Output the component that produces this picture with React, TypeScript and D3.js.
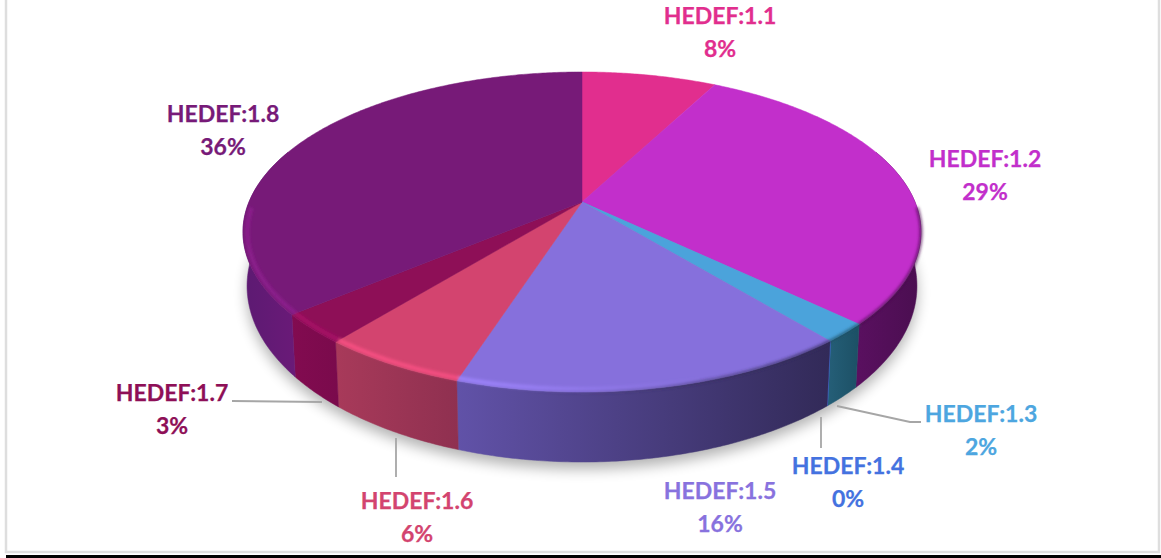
import { useEffect, useRef } from 'react'
import * as d3 from 'd3'

const categories = ['HEDEF:1.1', 'HEDEF:1.2', 'HEDEF:1.3', 'HEDEF:1.4', 'HEDEF:1.5', 'HEDEF:1.6', 'HEDEF:1.7', 'HEDEF:1.8']
// labels round these, the slice edges in the picture sit slightly off the whole numbers
const percents = [7.7, 29.4, 1.9, 0, 16, 5.9, 3, 36.1]
const colors = ['#E12E8E', '#C22FCB', '#4BA3DB', '#4472E0', '#8670DC', '#D3446F', '#8E0F57', '#771A78']
const labelColors = ['#E12E8E', '#C22FCB', '#4DA6E0', '#4472E0', '#8872DE', '#D3446F', '#8E0F57', '#771A78']
// side wall shading, left to right
const sideLeft = ['#7a1a50', '#5a1060', '#255f78', '#3a5fc0', '#6152A8', '#A83A5A', '#820B50', '#5C1A72']
const sideRight = ['#7a1a50', '#4A0E50', '#1C5065', '#3a5fc0', '#322A58', '#8F3050', '#7A0A4C', '#6A1A78']

const labelX = [720, 985, 981, 848, 720, 417, 172, 223]
const labelY = [16, 159, 414, 466, 491, 501, 393, 114]
const leaders: [number, number][][] = [
  [],
  [],
  [[837, 406], [910, 422], [921, 422]],
  [[821, 417], [821, 448]],
  [],
  [[396, 438], [396, 477]],
  [[232, 401], [322, 402]],
  [],
]

const width = 1161
const height = 558

// disc seen in perspective: apex is where the centre of the disc lands
const apex = { x: 582, y: 202 }
const discA = 333
const discB = 154.4
const tilt = 0.1875
const midY = 232
const wall = { scaleX: 0.988, scaleY: 1.1, shift: 54 }
const frontFrom = (70 * Math.PI) / 180
const frontTo = (290 * Math.PI) / 180
const rimFrom = (92 * Math.PI) / 180
const rimTo = (268 * Math.PI) / 180

function topPoint(angle: number): [number, number] {
  const u = Math.sin(angle)
  const v = -Math.cos(angle)
  const w = 1 - tilt * v
  return [apex.x + (discA * u) / w, apex.y + (discB * v) / w]
}

function bottomPoint(angle: number): [number, number] {
  const [x, y] = topPoint(angle)
  return [apex.x + (x - apex.x) * wall.scaleX, midY + (y - midY) * wall.scaleY + wall.shift]
}

// slightly inside the edge, where the bevel catches the light
function bevelPoint(angle: number): [number, number] {
  const [x, y] = topPoint(angle)
  return [apex.x + (x - apex.x) * 0.987, midY + (y - midY) * 0.982]
}

function sweep(a: number, b: number) {
  const n = Math.max(1, Math.ceil((b - a) / 0.01))
  return d3.range(n + 1).map(i => a + ((b - a) * i) / n)
}

export default function App() {
  const svgRef = useRef<SVGSVGElement | null>(null)

  useEffect(() => {
    if (!svgRef.current) return
    const svg = d3.select(svgRef.current)
    svg.selectAll('*').remove()

    const arcs = d3.pie<number>().sort(null).value(d => d)(percents)
    const line = d3.line<[number, number]>()
    const defs = svg.append('defs')

    defs.append('filter').attr('id', 'shadowBlur')
      .attr('x', '-10%').attr('y', '-10%').attr('width', '120%').attr('height', '125%')
      .append('feGaussianBlur').attr('stdDeviation', 7)
    defs.append('filter').attr('id', 'rimBlur')
      .attr('filterUnits', 'userSpaceOnUse')
      .attr('x', 0).attr('y', 0).attr('width', width).attr('height', height)
      .append('feGaussianBlur').attr('stdDeviation', 1.5)

    // frame
    svg.append('rect').attr('width', width).attr('height', height).attr('fill', '#fff')
    svg.append('path')
      .attr('d', 'M6,0V552H1159V0')
      .attr('fill', 'none').attr('stroke', '#dedede').attr('stroke-width', 2.5)
    svg.append('rect').attr('x', 6).attr('y', 555).attr('width', width - 6).attr('height', 3).attr('fill', '#000')

    // shadow under the pie
    const whole = sweep(0, Math.PI * 2)
    svg.append('path')
      .attr('d', line(whole.map(bottomPoint)) + 'Z')
      .attr('transform', 'translate(0,7)')
      .attr('fill', '#000').attr('opacity', 0.3)
      .attr('filter', 'url(#shadowBlur)')

    // side walls
    const sides = svg.append('g')
    arcs.forEach((d, i) => {
      const a = Math.max(d.startAngle, frontFrom)
      const b = Math.min(d.endAngle, frontTo)
      if (b < a) return
      const angles = sweep(a, b)
      const pts = [...angles.map(topPoint), ...angles.slice().reverse().map(bottomPoint)]
      const xs = pts.map(p => p[0])
      const grad = defs.append('linearGradient')
        .attr('id', `side${i}`)
        .attr('gradientUnits', 'userSpaceOnUse')
        .attr('x1', d3.min(xs) as number).attr('x2', d3.max(xs) as number)
        .attr('y1', 0).attr('y2', 0)
      grad.append('stop').attr('offset', 0).attr('stop-color', sideLeft[i])
      grad.append('stop').attr('offset', 1).attr('stop-color', sideRight[i])
      sides.append('path')
        .attr('d', line(pts) + 'Z')
        .attr('fill', `url(#side${i})`)
        .attr('stroke', d.value === 0 ? colors[i] : `url(#side${i})`)
        .attr('stroke-width', d.value === 0 ? 1.6 : 0.5)
    })

    // top face
    const top = svg.append('g')
    arcs.forEach((d, i) => {
      if (d.value === 0) return
      const pts: [number, number][] = [[apex.x, apex.y], ...sweep(d.startAngle, d.endAngle).map(topPoint)]
      top.append('path')
        .attr('d', line(pts) + 'Z')
        .attr('fill', colors[i])
        .attr('stroke', colors[i])
        .attr('stroke-width', 0.5)
    })

    // bevel: bright on the left of the front edge, a soft dark seam on the right
    const rim = svg.append('g').attr('filter', 'url(#rimBlur)')
    arcs.forEach((d, i) => {
      const a = Math.max(d.startAngle, rimFrom)
      const b = Math.min(d.endAngle, rimTo)
      if (b <= a) return
      const bright = d3.color(colors[i])!.brighter(0.5).formatHex()
      const lightId = `light${i}`
      const light = defs.append('linearGradient').attr('id', lightId)
        .attr('gradientUnits', 'userSpaceOnUse')
        .attr('x1', 240).attr('x2', 700).attr('y1', 0).attr('y2', 0)
      light.append('stop').attr('offset', 0).attr('stop-color', bright).attr('stop-opacity', 0.9)
      light.append('stop').attr('offset', 0.55).attr('stop-color', bright).attr('stop-opacity', 0.8)
      light.append('stop').attr('offset', 1).attr('stop-color', bright).attr('stop-opacity', 0)
      rim.append('path')
        .attr('d', line(sweep(a, b).map(bevelPoint)))
        .attr('fill', 'none')
        .attr('stroke', `url(#${lightId})`)
        .attr('stroke-width', 4)

      const darkId = `seam${i}`
      const dark = defs.append('linearGradient').attr('id', darkId)
        .attr('gradientUnits', 'userSpaceOnUse')
        .attr('x1', 520).attr('x2', 800).attr('y1', 0).attr('y2', 0)
      dark.append('stop').attr('offset', 0).attr('stop-color', sideRight[i]).attr('stop-opacity', 0)
      dark.append('stop').attr('offset', 1).attr('stop-color', sideRight[i]).attr('stop-opacity', 0.75)
      rim.append('path')
        .attr('d', line(sweep(a, b).map(topPoint)))
        .attr('fill', 'none')
        .attr('stroke', `url(#${darkId})`)
        .attr('stroke-width', 3)
    })

    // leader lines
    leaders.forEach(pts => {
      if (!pts.length) return
      svg.append('path')
        .attr('d', line(pts))
        .attr('fill', 'none')
        .attr('stroke', '#A6A6A6')
        .attr('stroke-width', 1.8)
    })

    // labels
    categories.forEach((name, i) => {
      const text = svg.append('text')
        .attr('text-anchor', 'middle')
        .attr('font-family', 'Lato, "Open Sans", sans-serif')
        .attr('font-weight', 700)
        .attr('font-size', 23)
        .attr('fill', labelColors[i])
        .attr('stroke', labelColors[i])
        .attr('stroke-width', 0.25)
      text.append('tspan').attr('x', labelX[i]).attr('y', labelY[i] + 8).text(name)
      text.append('tspan').attr('x', labelX[i]).attr('y', labelY[i] + 41).text(`${Math.round(percents[i])}%`)
    })
  }, [])

  return (
    <svg
      ref={svgRef}
      width={width}
      height={height}
      style={{ position: 'absolute', left: 0, top: 0, display: 'block' }}
    />
  )
}
